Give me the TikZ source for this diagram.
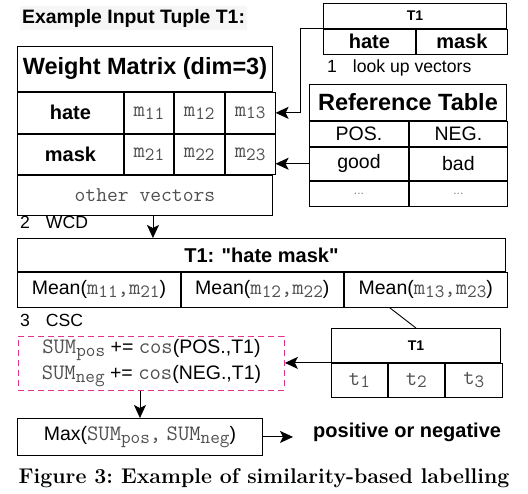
\documentclass[tikz,border=0pt]{standalone}
\usepackage{fontspec}
\usepackage{graphicx}
\setsansfont{Liberation Sans}
\usetikzlibrary{arrows.meta,positioning,calc}
\definecolor{dashpink}{HTML}{E0338F}
\definecolor{ttgray}{HTML}{505050}
\definecolor{headshade}{HTML}{F6F6F6}
\newcommand{\ttv}[2]{{\color{ttgray}\ttfamily\fontsize{22}{24}\selectfont #1\raisebox{-0.3ex}{\scalebox{0.85}{#2}}}}
\newcommand{\ttw}[1]{{\color{ttgray}\ttfamily\fontsize{22}{24}\selectfont #1}}
\newcommand{\dq}{\XeTeXglyph\XeTeXcharglyph"22\relax}
\tikzset{
  cell/.style={
    draw=black,
    line width=0.9pt,
    inner sep=0pt,
    anchor=north west,
    align=center,
    font=\sffamily\fontsize{19.5}{22}\selectfont
  },
  boldcell/.style={cell,font=\sffamily\bfseries\fontsize{20}{22}\selectfont},
  titlecell/.style={cell,font=\sffamily\bfseries\fontsize{23.5}{26}\selectfont},
  smallhead/.style={cell,font=\sffamily\bfseries\fontsize{14}{16}\selectfont},
  steplabel/.style={anchor=west,inner sep=0pt,font=\sffamily\fontsize{17.6}{20}\selectfont},
  flowarrow/.style={-{Stealth[length=13pt,width=12pt,inset=3pt]},line width=0.9pt,draw=black}
}

\begin{document}
\begin{tikzpicture}[x=1pt,y=-1pt,node distance=0pt]
\useasboundingbox (0,0) rectangle (528,494);
% heading
\node[anchor=west,fill=headshade,inner xsep=2pt,inner ysep=3pt,font=\sffamily\bfseries\fontsize{19.4}{22}\selectfont] (heading) at (20,18) {Example Input Tuple T1:};
% input tuple
\node[smallhead,minimum width=183pt,minimum height=25pt] (intitle) at (323,3) {T1};
\node[boldcell,minimum width=92pt,minimum height=25pt,below=of intitle.south west,anchor=north west] (inhate) {hate};
\node[boldcell,minimum width=91pt,minimum height=25pt,right=of inhate.north east,anchor=north west] (inmask) {mask};
\node[steplabel] (lookup) at (327,68) {1\hspace{16pt}look up vectors};
% weight matrix
\node[titlecell,minimum width=255pt,minimum height=45pt] (wmtitle) at (17,46) {Weight Matrix (dim=3)};
\node[boldcell,minimum width=106pt,minimum height=41pt,below=of wmtitle.south west,anchor=north west] (rowhate) {hate};
\node[cell,minimum width=49pt,minimum height=41pt,right=of rowhate.north east,anchor=north west] (m11) {\ttv{m}{11}};
\node[cell,minimum width=50pt,minimum height=41pt,right=of m11.north east,anchor=north west] (m12) {\ttv{m}{12}};
\node[cell,minimum width=50pt,minimum height=41pt,right=of m12.north east,anchor=north west] (m13) {\ttv{m}{13}};
\node[boldcell,minimum width=106pt,minimum height=40pt,below=of rowhate.south west,anchor=north west] (rowmask) {mask};
\node[cell,minimum width=49pt,minimum height=40pt,right=of rowmask.north east,anchor=north west] (m21) {\ttv{m}{21}};
\node[cell,minimum width=50pt,minimum height=40pt,right=of m21.north east,anchor=north west] (m22) {\ttv{m}{22}};
\node[cell,minimum width=50pt,minimum height=40pt,right=of m22.north east,anchor=north west] (m23) {\ttv{m}{23}};
\node[cell,minimum width=255pt,minimum height=40pt,below=of rowmask.south west,anchor=north west] (others) {\ttw{\fontsize{21}{24}\selectfont other vectors}};
% reference table
\node[titlecell,minimum width=197pt,minimum height=36pt] (reftitle) at (309,84) {Reference Table};
\node[cell,minimum width=99pt,minimum height=25pt,below=of reftitle.south west,anchor=north west] (pos) {POS.};
\node[cell,minimum width=98pt,minimum height=25pt,right=of pos.north east,anchor=north west] (neg) {NEG.};
\node[cell,minimum width=99pt,minimum height=33pt,below=of pos.south west,anchor=north west] (good) {good};
\node[cell,minimum width=98pt,minimum height=33pt,right=of good.north east,anchor=north west] (bad) {bad};
\node[cell,minimum width=99pt,minimum height=25pt,below=of good.south west,anchor=north west,text=gray] (posmore) {\fontsize{12}{14}\selectfont...};
\node[cell,minimum width=98pt,minimum height=25pt,right=of posmore.north east,anchor=north west,text=gray] (negmore) {\fontsize{12}{14}\selectfont...};
% averaged tuple
\node[steplabel] (wcd) at (20,222) {2\hspace{16pt}WCD};
\node[boldcell,minimum width=488pt,minimum height=33pt] (avgtitle) at (17,238) {T1: \dq hate mask\dq};
\node[cell,minimum width=163pt,minimum height=35pt,below=of avgtitle.south west,anchor=north west] (mean1) {Mean(\ttv{m}{11}\ttw{,}\ttv{m}{21})};
\node[cell,minimum width=162pt,minimum height=35pt,right=of mean1.north east,anchor=north west] (mean2) {Mean(\ttv{m}{12}\ttw{,}\ttv{m}{22})};
\node[cell,minimum width=163pt,minimum height=35pt,right=of mean2.north east,anchor=north west] (mean3) {Mean(\ttv{m}{13}\ttw{,}\ttv{m}{23})};
% similarity
\node[steplabel] (csc) at (20,320) {3\hspace{16pt}CSC};
\node[smallhead,minimum width=169pt,minimum height=34pt] (vectitle) at (331,328) {T1};
\node[cell,minimum width=56pt,minimum height=34pt,below=of vectitle.south west,anchor=north west] (t1) {\ttv{t}{1}};
\node[cell,minimum width=56pt,minimum height=34pt,right=of t1.north east,anchor=north west] (t2) {\ttv{t}{2}};
\node[cell,minimum width=57pt,minimum height=34pt,right=of t2.north east,anchor=north west] (t3) {\ttv{t}{3}};
\node[cell,draw=dashpink,dash pattern=on 6pt off 4pt,minimum width=266pt,minimum height=54pt,font=\sffamily\fontsize{19.5}{26}\selectfont] (sumbox) at (18,336)
  {\ttv{SUM}{pos} += \ttw{cos}(POS.,T1)\\\ttv{SUM}{neg} += \ttw{cos}(NEG.,T1)};
\node[cell,minimum width=245pt,minimum height=37pt] (maxbox) at (17,418) {Max(\ttv{SUM}{pos}\ttw{,} \ttv{SUM}{neg})};
\node[anchor=west,inner sep=0pt,font=\sffamily\bfseries\fontsize{20}{22}\selectfont] (result) at (313,432) {positive or negative};
% connectors
\draw[flowarrow] (intitle.south west) -- ++(-23,0) |- (m13.east);
\draw[flowarrow] (good.west) -- (good.west -| m23.east);
\draw[flowarrow] ([xshift=8pt]others.south) -- ([xshift=8pt]others.south |- avgtitle.north);
\draw[line width=0.9pt] ([xshift=46pt]mean3.south west) -- (vectitle.north);
\draw[flowarrow] (vectitle.south west) -- (vectitle.south west -| sumbox.east);
\draw[flowarrow] (sumbox.south -| maxbox.north) -- (maxbox.north);
\draw[flowarrow,shorten >=20pt] (maxbox.east) -- (maxbox.east -| result.west);
% caption
\node[inner sep=0pt,font=\bfseries\fontsize{21.3}{24}\selectfont\frenchspacing] (caption) at (264,478) {Figure 3: Example of similarity-based labelling};
\end{tikzpicture}
\end{document}
